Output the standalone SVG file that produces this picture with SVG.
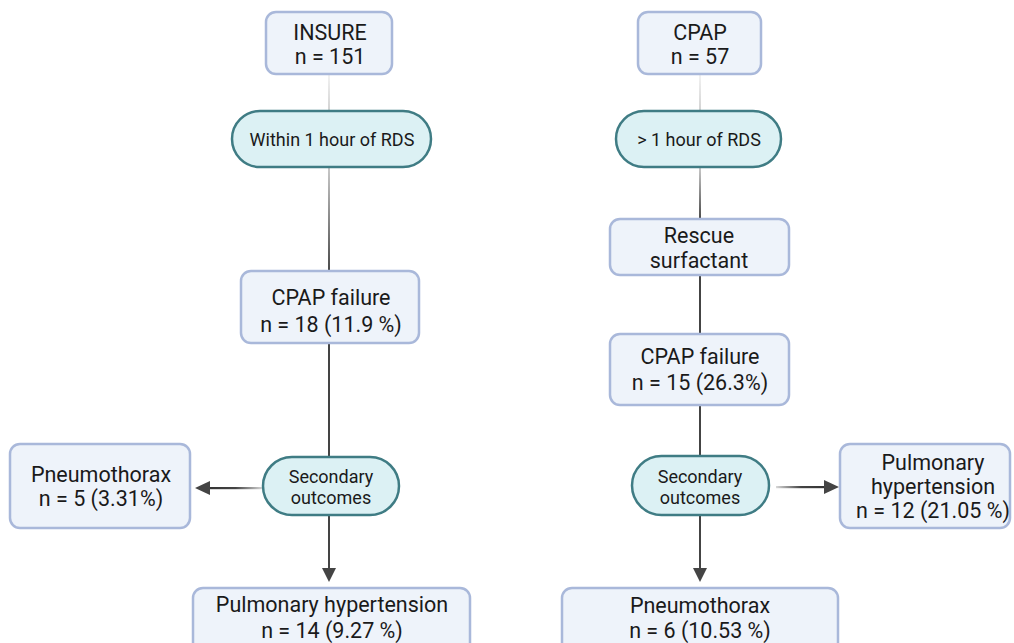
<svg xmlns="http://www.w3.org/2000/svg" width="1014" height="643" viewBox="0 0 1014 643">
<defs>
<style>
.box{fill:#eef3fa;stroke:#a9b8da;stroke-width:2.5}
.pill{fill:#dcf1f4;stroke:#3f7c84;stroke-width:2.5}
.t{font-family:Roboto,"Liberation Sans",sans-serif;font-size:21.5px;fill:#1a1a1a;text-anchor:middle}
.s{font-family:Roboto,"Liberation Sans",sans-serif;font-size:18px;fill:#1a1a1a;text-anchor:middle}
.dark{fill:#444}
</style>
<linearGradient id="gv" x1="0" y1="0" x2="0" y2="1"><stop offset="0" stop-color="#c8c8c8"/><stop offset="1" stop-color="#4a4a4a"/></linearGradient>
<linearGradient id="gf" x1="0" y1="0" x2="0" y2="1"><stop offset="0" stop-color="#f2f2f2"/><stop offset="1" stop-color="#d2d2d2"/></linearGradient>
<linearGradient id="gl" x1="1" y1="0" x2="0" y2="0"><stop offset="0" stop-color="#d8d8d8"/><stop offset="0.5" stop-color="#444"/><stop offset="1" stop-color="#333"/></linearGradient>
<linearGradient id="gr" x1="0" y1="0" x2="1" y2="0"><stop offset="0" stop-color="#d8d8d8"/><stop offset="0.5" stop-color="#444"/><stop offset="1" stop-color="#333"/></linearGradient>
</defs>
<rect width="1014" height="643" fill="#ffffff"/>
<g id="connectors">
<rect x="328" y="75" width="2" height="36" fill="url(#gf)"/>
<rect x="328" y="168" width="2" height="103" fill="url(#gv)"/>
<rect x="328" y="344" width="2" height="113" class="dark"/>
<rect x="328" y="516" width="2" height="54" class="dark"/>
<path d="M322 568 L336 568 L329 582 Z" class="dark"/>
<rect x="208" y="487" width="55" height="2.2" fill="url(#gl)"/>
<path d="M210 481 L210 495 L195 488 Z" class="dark"/>
<rect x="699" y="75" width="2" height="36" fill="url(#gf)"/>
<rect x="699" y="168" width="2" height="51" fill="url(#gv)"/>
<rect x="699" y="276" width="2" height="58" class="dark"/>
<rect x="699" y="406" width="2" height="50" class="dark"/>
<rect x="699" y="516" width="2" height="54" class="dark"/>
<path d="M693 568 L707 568 L700 582 Z" class="dark"/>
<rect x="776" y="486" width="50" height="2.2" fill="url(#gr)"/>
<path d="M824 480 L824 494 L839 487 Z" class="dark"/>
</g>
<g id="insure"><rect class="box" x="266" y="12" width="126" height="62" rx="10"/><text class="t" x="330" y="40">INSURE</text><text class="t" x="330" y="64">n = 151</text></g>
<g id="within"><rect class="pill" x="232" y="111" width="199" height="56" rx="28"/><text class="s" x="332" y="146">Within 1 hour of RDS</text></g>
<g id="cpapfail-left"><rect class="box" x="241" y="271" width="178" height="72" rx="10"/><text class="t" x="331" y="305">CPAP failure</text><text class="t" x="331" y="332">n = 18 (11.9 %)</text></g>
<g id="secondary-left"><rect class="pill" x="263" y="457" width="136" height="58" rx="29"/><text class="s" x="331" y="483">Secondary</text><text class="s" x="331" y="504">outcomes</text></g>
<g id="pneumo-left"><rect class="box" x="10" y="444" width="180" height="84" rx="10"/><text class="t" x="101" y="482">Pneumothorax</text><text class="t" x="101" y="506">n = 5 (3.31%)</text></g>
<g id="ph-left"><rect class="box" x="193" y="588" width="277" height="70" rx="10"/><text class="t" x="332" y="612">Pulmonary hypertension</text><text class="t" x="332" y="638">n = 14 (9.27 %)</text></g>
<g id="cpap"><rect class="box" x="638" y="12" width="123" height="62" rx="10"/><text class="t" x="700" y="40">CPAP</text><text class="t" x="700" y="64">n = 57</text></g>
<g id="over1h"><rect class="pill" x="616" y="111" width="165" height="56" rx="28"/><text class="s" x="699" y="146">&gt; 1 hour of RDS</text></g>
<g id="rescue"><rect class="box" x="610" y="219" width="179" height="56" rx="10"/><text class="t" x="699" y="243">Rescue</text><text class="t" x="699" y="268">surfactant</text></g>
<g id="cpapfail-right"><rect class="box" x="610" y="334" width="179" height="71" rx="10"/><text class="t" x="700" y="364">CPAP failure</text><text class="t" x="700" y="390">n = 15 (26.3%)</text></g>
<g id="secondary-right"><rect class="pill" x="632" y="456" width="137" height="59" rx="29.5"/><text class="s" x="700" y="483">Secondary</text><text class="s" x="700" y="504">outcomes</text></g>
<g id="ph-right"><rect class="box" x="840" y="444" width="170" height="84" rx="10"/><text class="t" x="933" y="470">Pulmonary</text><text class="t" x="933" y="494">hypertension</text><text class="t" x="933" y="518">n = 12 (21.05 %)</text></g>
<g id="pneumo-right"><rect class="box" x="562" y="588" width="276" height="70" rx="10"/><text class="t" x="700" y="613">Pneumothorax</text><text class="t" x="700" y="638">n = 6 (10.53 %)</text></g>
</svg>
